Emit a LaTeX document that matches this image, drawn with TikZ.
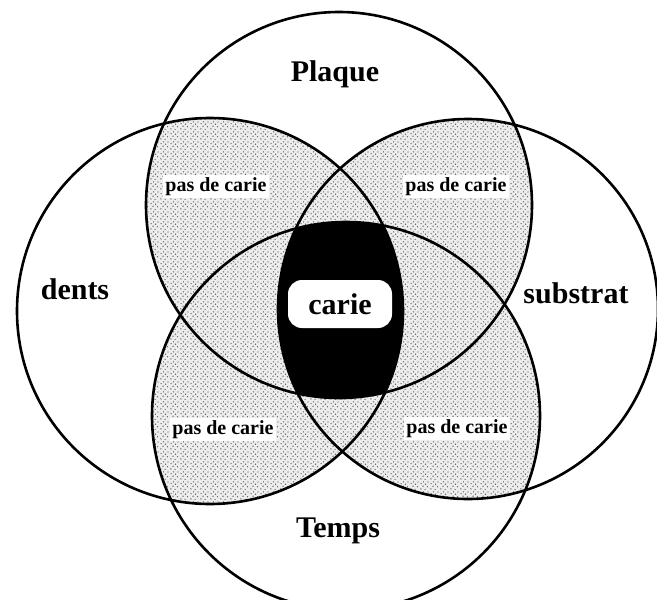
\documentclass[tikz,border=0pt]{standalone}
\usepackage{fontspec}
\setmainfont{Liberation Serif}
\usetikzlibrary{patterns}
\pgfdeclarepatternformonly{stipple}{\pgfqpoint{0pt}{0pt}}{\pgfqpoint{10pt}{10pt}}{\pgfqpoint{10pt}{10pt}}{%
  \pgfpathcircle{\pgfqpoint{1pt}{1.2pt}}{0.75pt}%
  \pgfpathcircle{\pgfqpoint{5.6pt}{0.6pt}}{0.7pt}%
  \pgfpathcircle{\pgfqpoint{3.4pt}{4.2pt}}{0.75pt}%
  \pgfpathcircle{\pgfqpoint{8.2pt}{3.6pt}}{0.7pt}%
  \pgfpathcircle{\pgfqpoint{1.2pt}{6.9pt}}{0.7pt}%
  \pgfpathcircle{\pgfqpoint{6.1pt}{6.4pt}}{0.75pt}%
  \pgfpathcircle{\pgfqpoint{8.8pt}{8.7pt}}{0.7pt}%
  \pgfpathcircle{\pgfqpoint{3.9pt}{8.9pt}}{0.7pt}%
  \pgfusepath{fill}%
}
\begin{document}
\begin{tikzpicture}[x=1pt,y=-1pt,
  ring/.style={draw=black, line width=2.6pt},
  stip/.style={fill=black!7, postaction={pattern=stipple, pattern color=black!70}},
  big/.style={font=\bfseries\fontsize{30}{36}\selectfont, anchor=base, inner sep=0pt},
  small/.style={font=\bfseries\fontsize{20}{24}\selectfont, anchor=base, fill=white, inner sep=2.5pt},
  blob/.style={fill=white, rounded corners=14pt, minimum width=104pt, minimum height=48pt, inner sep=0pt, font=\bfseries\fontsize{30}{36}\selectfont}]
\useasboundingbox (0,0) rectangle (657,600);
\clip (0,0) rectangle (657,600);
\coordinate (cT) at (339,205);
\coordinate (cL) at (210,311);
\coordinate (cR) at (468,309);
\coordinate (cB) at (346,416);
% stippled regions: (T or B) and (L or R)
\foreach \a/\ra in {cT/193,cB/194}{
  \foreach \b/\rb in {cL/193,cR/190}{
    \begin{scope}
      \clip (\a) circle[radius=\ra pt];
      \fill[stip] (\b) circle[radius=\rb pt];
    \end{scope}
  }
}
% black centre: all four
\begin{scope}
  \clip (cT) circle[radius=193pt];
  \clip (cB) circle[radius=194pt];
  \clip (cL) circle[radius=193pt];
  \fill[black] (cR) circle[radius=190pt];
\end{scope}
\node[blob] (carie) at (340,304) {carie};
\node[small] (p1) at (216,191) {pas de carie};
\node[small] (p2) at (456,191) {pas de carie};
\node[small] (p3) at (223,434) {pas de carie};
\node[small] (p4) at (457,433) {pas de carie};
% circles
\draw[ring] (cT) circle[radius=193pt];
\draw[ring] (cL) circle[radius=193pt];
\draw[ring] (cR) circle[radius=190pt];
\draw[ring] (cB) circle[radius=194pt];
\node[big] (plaque) at (335,81) {Plaque};
\node[big] (dents) at (75,299) {dents};
\node[big] (substrat) at (576,303) {substrat};
\node[big] (temps) at (338,537) {Temps};
\end{tikzpicture}
\end{document}
